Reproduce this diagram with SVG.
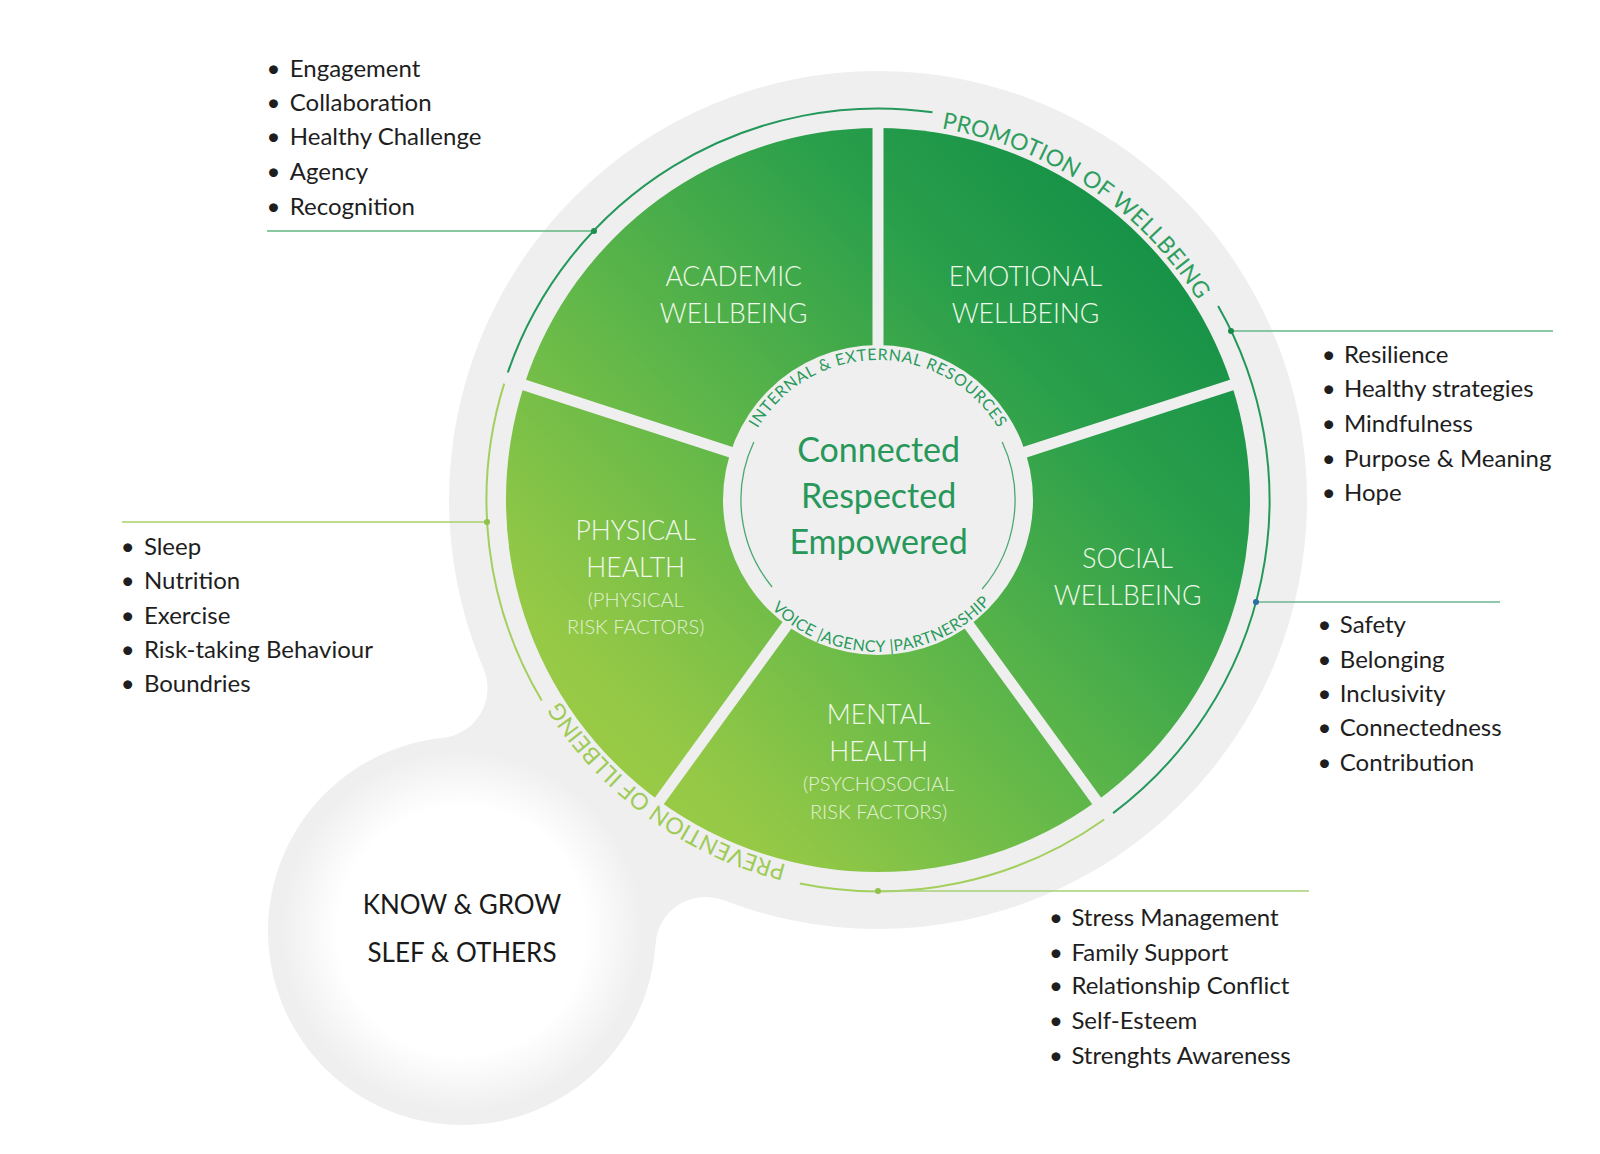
<svg xmlns="http://www.w3.org/2000/svg" width="1600" height="1154" viewBox="0 0 1600 1154">
<defs>
<style>
.bg{fill:#efefef}
.list{font-family:Lato,"Open Sans","Liberation Sans",sans-serif;font-size:24px;fill:#1e1e1e}
.bul{text-anchor:middle}
.lbl{font-family:Lato,"Open Sans","Liberation Sans",sans-serif;font-size:26.5px;font-weight:300;fill:#f0f8eb;text-anchor:middle}
.lbls{font-size:20px;fill:#e2f1d7}
.core{font-family:Lato,"Open Sans","Liberation Sans",sans-serif;font-size:34px;fill:#27985a;text-anchor:middle}
.kg{font-family:Lato,"Open Sans","Liberation Sans",sans-serif;font-size:26px;fill:#1a1a1a;text-anchor:middle}
.arct{font-family:Lato,"Open Sans","Liberation Sans",sans-serif;font-size:23px}
.ringt{font-family:Lato,"Open Sans","Liberation Sans",sans-serif;font-size:16px;fill:#2a9a5c}
.dark{fill:none;stroke:#23985a;stroke-width:2}
.light{fill:none;stroke:#a3cf5e;stroke-width:2}
.ring{fill:none;stroke:#4aa970;stroke-width:1.3}
.div{stroke:#efefef;stroke-width:11}
.wedge{fill:url(#gw)}
</style>
<linearGradient id="gw" gradientUnits="userSpaceOnUse" x1="1230" y1="170" x2="560" y2="820">
<stop offset="0" stop-color="#0a8a44"/>
<stop offset="0.3" stop-color="#2a9f4b"/>
<stop offset="0.6" stop-color="#62b849"/>
<stop offset="0.85" stop-color="#93c846"/>
<stop offset="1" stop-color="#a0cd45"/>
</linearGradient>
<radialGradient id="gs" cx="462" cy="931" r="194" gradientUnits="userSpaceOnUse">
<stop offset="0" stop-color="#ffffff"/>
<stop offset="0.64" stop-color="#ffffff"/>
<stop offset="0.93" stop-color="#efefef"/>
<stop offset="1" stop-color="#efefef"/>
</radialGradient>
<path id="p-promo" d="M 941.5 128.4 A 377 377 0 0 1 1197.7 300.2"/>
<path id="p-prev" d="M 786.4 864.7 A 376 376 0 0 1 560.2 700.9"/>
<path id="p-res" d="M 757.6 428.5 A 140 140 0 0 1 998 427.9"/>
<path id="p-voice" d="M 771.5 608.4 A 152 152 0 0 0 990.1 602.7"/>
</defs>

<g id="background">
<circle class="bg" cx="878" cy="500" r="429"/>
<path class="bg" d="M 878 500 L 483.5 668.5 A 50 50 0 0 1 442.5 737.9 L 462 931 L 655.6 943.6 A 50 50 0 0 1 723.5 900.3 Z"/>
</g>

<g id="know-grow">
<circle cx="462" cy="931" r="194" fill="url(#gs)"/>
<text class="kg" x="462" y="914">KNOW &amp; GROW</text>
<text class="kg" x="462" y="962">SLEF &amp; OTHERS</text>
</g>

<g id="sector-academic">
<path class="wedge" d="M 878 500 L 524.2 385 A 372 372 0 0 1 878 128 Z"/>
<text class="lbl" x="733.7" y="286">ACADEMIC</text>
<text class="lbl" x="733.7" y="323">WELLBEING</text>
</g>
<g id="sector-emotional">
<path class="wedge" d="M 878 500 L 878 128 A 372 372 0 0 1 1231.8 385 Z"/>
<text class="lbl" x="1025.5" y="286">EMOTIONAL</text>
<text class="lbl" x="1025.5" y="323">WELLBEING</text>
</g>
<g id="sector-social">
<path class="wedge" d="M 878 500 L 1231.8 385 A 372 372 0 0 1 1096.7 801 Z"/>
<text class="lbl" x="1127.6" y="568">SOCIAL</text>
<text class="lbl" x="1127.6" y="605">WELLBEING</text>
</g>
<g id="sector-mental">
<path class="wedge" d="M 878 500 L 1096.7 801 A 372 372 0 0 1 659.3 801 Z"/>
<text class="lbl" x="878.6" y="724">MENTAL</text>
<text class="lbl" x="878.6" y="761">HEALTH</text>
<text class="lbl lbls" x="878.6" y="791">(PSYCHOSOCIAL</text>
<text class="lbl lbls" x="878.6" y="818.5">RISK FACTORS)</text>
</g>
<g id="sector-physical">
<path class="wedge" d="M 878 500 L 659.3 801 A 372 372 0 0 1 524.2 385 Z"/>
<text class="lbl" x="635.7" y="540">PHYSICAL</text>
<text class="lbl" x="635.7" y="577">HEALTH</text>
<text class="lbl lbls" x="635.7" y="606.5">(PHYSICAL</text>
<text class="lbl lbls" x="635.7" y="634">RISK FACTORS)</text>
</g>

<g id="dividers">
<line class="div" x1="878" y1="500" x2="878" y2="115"/>
<line class="div" x1="878" y1="500" x2="1244" y2="381"/>
<line class="div" x1="878" y1="500" x2="1104" y2="811"/>
<line class="div" x1="878" y1="500" x2="652" y2="811"/>
<line class="div" x1="878" y1="500" x2="512" y2="381"/>
</g>

<g id="core">
<circle class="bg" cx="878" cy="500" r="155"/>
<path class="ring" d="M 772.1 587 A 137 137 0 0 1 753.8 442.1"/>
<path class="ring" d="M 1002.2 442.1 A 137 137 0 0 1 982.2 589"/>
<text class="ringt"><textPath href="#p-res" textLength="289" lengthAdjust="spacing">INTERNAL &amp; EXTERNAL RESOURCES</textPath></text>
<text class="ringt" font-size="15"><textPath href="#p-voice" textLength="244" lengthAdjust="spacing">VOICE |AGENCY |PARTNERSHIP</textPath></text>
<text class="core" x="878.6" y="462">Connected</text>
<text class="core" x="878.6" y="508">Respected</text>
<text class="core" x="878.6" y="554">Empowered</text>
</g>

<g id="bands">
<path class="dark" d="M 507.8 372.5 A 391.5 391.5 0 0 1 932.5 112.3"/>
<path class="dark" d="M 1218.1 306 A 391.5 391.5 0 0 1 1113.1 813.1"/>
<path class="light" d="M 1104.2 819.5 A 391.5 391.5 0 0 1 799.9 883.6"/>
<path class="light" d="M 541.7 700.5 A 391.5 391.5 0 0 1 504.2 383.6"/>
<text class="arct" fill="#2e9e5e"><textPath href="#p-promo" textLength="317.8" lengthAdjust="spacing">PROMOTION OF WELLBEING</textPath></text>
<text class="arct" fill="#9dcb56"><textPath href="#p-prev" textLength="286" lengthAdjust="spacing">PREVENTION OF ILLBEING</textPath></text>
</g>

<g id="connectors">
<line x1="267" y1="231" x2="594" y2="231" stroke="#62b67e" stroke-width="1.5"/>
<circle cx="594" cy="231" r="3" fill="#1e8f4e"/>
<line x1="1231" y1="331" x2="1553" y2="331" stroke="#66b98a" stroke-width="1.5"/>
<circle cx="1231" cy="331" r="3" fill="#1b8a4a"/>
<line x1="1256" y1="602" x2="1500" y2="602" stroke="#6ab68e" stroke-width="1.5"/>
<circle cx="1256" cy="602" r="3" fill="#2a6fa0"/>
<line x1="122" y1="522" x2="487" y2="522" stroke="#a7d16a" stroke-width="1.5"/>
<circle cx="487" cy="522" r="3" fill="#8fc14a"/>
<line x1="878" y1="891" x2="1309" y2="891" stroke="#a9d174" stroke-width="1.5"/>
<circle cx="878" cy="891" r="3" fill="#8fc14a"/>
</g>

<g id="list-academic" class="list">
<text class="bul" x="273.5" y="76.9">•</text><text x="289.8" y="76.9">Engagement</text>
<text class="bul" x="273.5" y="110.6">•</text><text x="289.8" y="110.6">Collaboration</text>
<text class="bul" x="273.5" y="145.3">•</text><text x="289.8" y="145.3">Healthy Challenge</text>
<text class="bul" x="273.5" y="179.9">•</text><text x="289.8" y="179.9">Agency</text>
<text class="bul" x="273.5" y="214.6">•</text><text x="289.8" y="214.6">Recognition</text>
</g>
<g id="list-emotional" class="list">
<text class="bul" x="1328.6" y="362.5">•</text><text x="1344" y="362.5">Resilience</text>
<text class="bul" x="1328.6" y="397.3">•</text><text x="1344" y="397.3">Healthy strategies</text>
<text class="bul" x="1328.6" y="432">•</text><text x="1344" y="432">Mindfulness</text>
<text class="bul" x="1328.6" y="466.7">•</text><text x="1344" y="466.7">Purpose &amp; Meaning</text>
<text class="bul" x="1328.6" y="501.4">•</text><text x="1344" y="501.4">Hope</text>
</g>
<g id="list-social" class="list">
<text class="bul" x="1324.5" y="633">•</text><text x="1339.8" y="633">Safety</text>
<text class="bul" x="1324.5" y="667.7">•</text><text x="1339.8" y="667.7">Belonging</text>
<text class="bul" x="1324.5" y="702.4">•</text><text x="1339.8" y="702.4">Inclusivity</text>
<text class="bul" x="1324.5" y="736.1">•</text><text x="1339.8" y="736.1">Connectedness</text>
<text class="bul" x="1324.5" y="770.8">•</text><text x="1339.8" y="770.8">Contribution</text>
</g>
<g id="list-physical" class="list">
<text class="bul" x="127.6" y="554.5">•</text><text x="143.9" y="554.5">Sleep</text>
<text class="bul" x="127.6" y="589.1">•</text><text x="143.9" y="589.1">Nutrition</text>
<text class="bul" x="127.6" y="623.8">•</text><text x="143.9" y="623.8">Exercise</text>
<text class="bul" x="127.6" y="657.5">•</text><text x="143.9" y="657.5">Risk-taking Behaviour</text>
<text class="bul" x="127.6" y="692.2">•</text><text x="143.9" y="692.2">Boundries</text>
</g>
<g id="list-mental" class="list">
<text class="bul" x="1056" y="925.9">•</text><text x="1071.4" y="925.9">Stress Management</text>
<text class="bul" x="1056" y="960.5">•</text><text x="1071.4" y="960.5">Family Support</text>
<text class="bul" x="1056" y="994.2">•</text><text x="1071.4" y="994.2">Relationship Conflict</text>
<text class="bul" x="1056" y="1028.9">•</text><text x="1071.4" y="1028.9">Self-Esteem</text>
<text class="bul" x="1056" y="1063.6">•</text><text x="1071.4" y="1063.6">Strenghts Awareness</text>
</g>
</svg>
